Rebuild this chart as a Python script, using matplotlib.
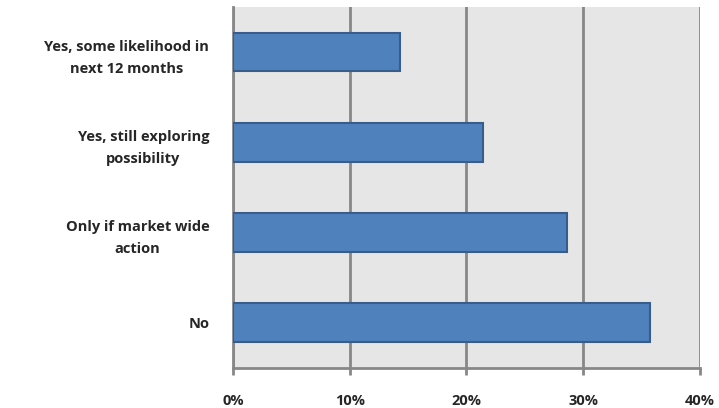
import matplotlib
matplotlib.use('Agg')
import matplotlib.pyplot as plt

# survey answers, top to bottom
categories = ['Yes, some likelihood in\nnext 12 months',
              'Yes, still exploring\npossibility',
              'Only if market wide\naction',
              'No']
values = [14.3, 21.4, 28.6, 35.7]
xticks = [0, 10, 20, 30, 40]
xtick_labels = ['0%', '10%', '20%', '30%', '40%']

grid_col = '#878787'

fig = plt.figure(figsize=(7.19, 4.08), dpi=100)
ax = fig.add_axes([0.324, 0.098, 0.6496, 0.885])
ax.set_facecolor('#e6e6e6')

ypos = list(range(len(categories)))
ax.barh(ypos, values, height=0.43, color='#4f81bd', edgecolor='#385d8a',
        linewidth=1.5, zorder=3)

ax.set_xlim(0, 40)
ax.set_ylim(len(categories) - 0.5, -0.5)
ax.set_xticks(xticks)
ax.set_xticklabels(xtick_labels)
ax.set_yticks(ypos)
ax.set_yticklabels(categories)

ax.xaxis.grid(True, color=grid_col, linewidth=2, zorder=1)
ax.set_axisbelow(True)

for side in ['top', 'right']:
    ax.spines[side].set_visible(False)
for side in ['left', 'bottom']:
    ax.spines[side].set_color(grid_col)
    ax.spines[side].set_linewidth(2)

ax.tick_params(axis='x', direction='out', length=5, width=2, color=grid_col,
               pad=14, labelsize=10.5, labelcolor='#262626')
ax.tick_params(axis='y', length=0, pad=17, labelsize=10.5, labelcolor='#262626')

for lab in ax.get_xticklabels() + ax.get_yticklabels():
    lab.set_fontfamily('Open Sans')
    lab.set_fontweight('bold')
for lab in ax.get_yticklabels():
    lab.set_multialignment('center')
    lab.set_linespacing(1.75)

fig.savefig('out.png', dpi=100)
